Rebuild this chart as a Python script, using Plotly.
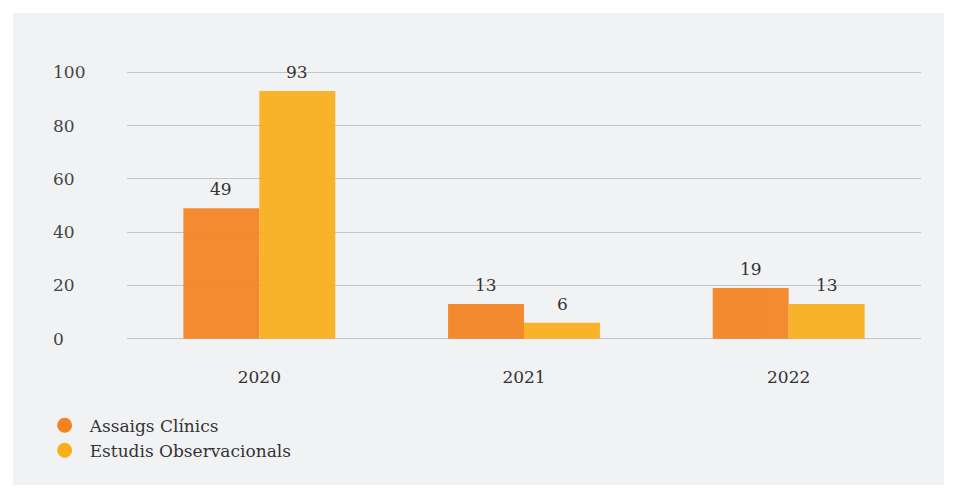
import plotly.graph_objects as go

years = ['2020', '2021', '2022']
assaigs = [49, 13, 19]
estudis = [93, 6, 13]
series_names = ['Assaigs Clínics', 'Estudis Observacionals']
colors = ['#F58220', '#FAAE19']
y_ticks = [0, 20, 40, 60, 80, 100]

font = 'DejaVu Serif'
txt = '#333333'

fig = go.Figure()
for name, vals, col in zip(series_names, [assaigs, estudis], colors):
    fig.add_trace(go.Bar(x=years, y=vals, name=name, marker_color=col,
                         marker_line_width=0, opacity=0.92, showlegend=False))
# legend with round markers
for name, col in zip(series_names, colors):
    fig.add_trace(go.Scatter(x=[years[0]], y=[None], mode='markers', name=name,
                             marker=dict(color=col, size=15, symbol='circle')))

# value labels above each bar (x as category index)
for vals, shift in [(assaigs, -38), (estudis, 38)]:
    for i, v in enumerate(vals):
        fig.add_annotation(x=i, y=v, text=str(v), showarrow=False, xshift=shift,
                           yshift=19, font=dict(family=font, size=17, color=txt))

# plot area spans y -5..105, so 0..100 sits between y=339 and y=72
fig.add_shape(type='rect', xref='paper', yref='paper', x0=-0.1436, x1=1.029,
              y0=-0.4539, y1=1.157, fillcolor='#F1F2F4', line_width=0, layer='below')

fig.update_layout(
    width=954, height=493,
    margin=dict(l=127, r=33, t=59, b=141, autoexpand=False),
    paper_bgcolor='white', plot_bgcolor='rgba(0,0,0,0)',
    barmode='group', bargap=0.426, bargroupgap=0,
    font=dict(family=font, size=17, color=txt),
    legend=dict(x=-0.11, y=-0.19, xanchor='left', yanchor='top',
                bgcolor='rgba(0,0,0,0)', itemsizing='trace', itemwidth=40,
                tracegroupgap=0, font=dict(family=font, size=17, color=txt)),
)
fig.update_xaxes(type='category', range=[-0.5, 2.5], showgrid=False, showline=False,
                 ticks='', ticklabelstandoff=13, automargin=False)
fig.update_yaxes(range=[-5, 105], tickvals=y_ticks, showgrid=True, gridcolor='#C4C4C4',
                 gridwidth=1, zeroline=False, showline=False, ticks='',
                 ticklabelposition='inside', ticklabelstandoff=-77, automargin=False)

fig.write_html('out.html', config={'displayModeBar': False},
               post_script="document.body.style.margin='0';")
